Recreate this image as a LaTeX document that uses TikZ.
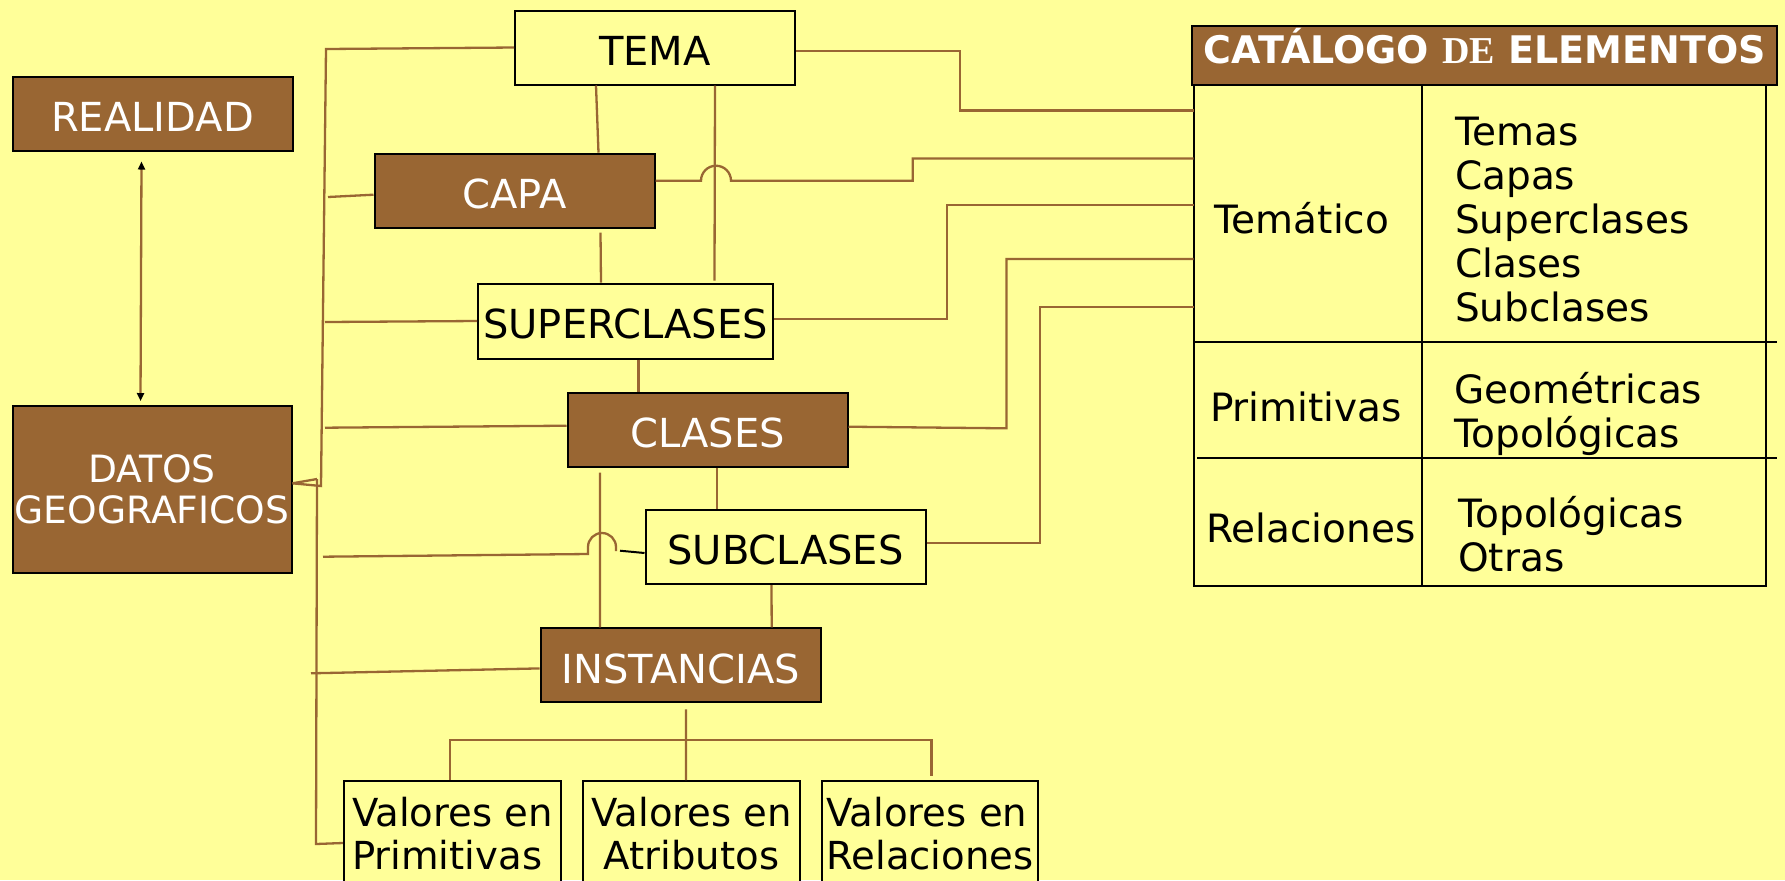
\documentclass[tikz,border=0pt]{standalone}
\usepackage{fontspec}
\setmainfont{DejaVu Sans}
\newfontfamily\deserif{Liberation Serif}
\usetikzlibrary{arrows.meta}
\definecolor{fondo}{HTML}{FFFF99}
\definecolor{cafe}{HTML}{996633}

\begin{document}
\begin{tikzpicture}[x=0.5pt,y=-0.5pt,
    font=\fontsize{20}{21.5}\selectfont,
    caja/.style={draw=black,line width=1pt,inner sep=0pt,minimum width=140pt,minimum height=37pt},
    clara/.style={caja,fill=fondo,text height=17.8pt,text depth=0pt},
    oscura/.style={caja,fill=cafe,text=white,text height=17.8pt,text depth=0pt},
    valor/.style={caja,fill=fondo,minimum width=108.7pt,minimum height=53pt,align=left,
      font=\fontsize{19.3}{21.5}\selectfont},
    celda/.style={inner sep=0pt,font=\fontsize{19.5}{22}\selectfont},
    tabla/.style={draw=black,line width=1pt},
    liga/.style={draw=cafe,line width=1.15pt}]
  \useasboundingbox (0,0) rectangle (1785,880);
  \clip (0,0) rectangle (1785,880);
  \fill[fondo] (0,0) rectangle (1785,880);

  % cajas del modelo
  \node[clara] (tema) at (655,47.5) {TEMA};
  \node[oscura] (realidad) at (152.5,113.5) {REALIDAD};
  \node[oscura] (capa) at (514.5,190.7) {CAPA};
  \node[clara, minimum width=147.5pt, minimum height=37.5pt] (superclases) at (625.5,321) {SUPERCLASES};
  \node[oscura] (clases) at (707.5,429.7) {CLASES};
  \node[caja, fill=cafe, text=white, align=center, minimum width=139.5pt, minimum height=83.3pt,
    font=\fontsize{18.8}{20.75}\selectfont] (datos) at (152,489.3) {DATOS\\GEOGRAFICOS};
  \node[clara] (subclases) at (785.5,547) {SUBCLASES};
  \node[oscura] (instancias) at (680.7,665.4) {INSTANCIAS};
  \node[valor] (valprim) at (452.5,834) {Valores en\\Primitivas};
  \node[valor, align=center] (valatr) at (691.6,834) {Valores en\\Atributos};
  \node[valor, minimum width=108pt] (valrel) at (930,834) {Valores en\\Relaciones};

  % catalogo
  \node[tabla, fill=cafe, text=white, inner sep=0pt, minimum width=292.5pt, minimum height=29.5pt,
    text height=13.9pt, text depth=5.7pt, font=\fontsize{19}{22}\selectfont\bfseries]
    (catalogo) at (1484.75,55.5) {CATÁLOGO {\deserif DE} ELEMENTOS};
  \draw[tabla] (1193.5,85) rectangle (1765.6,586);
  \draw[tabla] (1422.3,85) -- (1422.3,586);
  \draw[tabla] (1193.5,342) -- (1777,342);
  \draw[tabla] (1197,458) -- (1777,458);
  \node[celda] (tematico) at (1302,218) {Temático};
  \node[celda, anchor=west, align=left] (listatem) at (1454.7,219.5) {Temas\\Capas\\Superclases\\Clases\\Subclases};
  \node[celda] (primitivas) at (1306,407) {Primitivas};
  \node[celda, anchor=west, align=left] (listaprim) at (1454,414) {Geométricas\\Topológicas};
  \node[celda] (relaciones) at (1311,527.8) {Relaciones};
  \node[celda, anchor=west, align=left] (listarel) at (1457.8,534.5) {Topológicas\\Otras};
  \coordinate (k1) at (1193.5,110.4);
  \coordinate (k2) at (1193.5,158.5);
  \coordinate (k3) at (1193.5,205.3);
  \coordinate (k4) at (1193.5,259);
  \coordinate (k5) at (1193.5,307.3);

  \begin{scope}[liga]
    % tronco izquierdo
    \draw (tema.west) -- (326,49) -- (321,486) -- ([yshift=3pt]datos.east);
    \draw (317,479) -- ([yshift=3pt]datos.east);
    \draw (317,479) -- (316,844) -- ([yshift=-4.5pt]valprim.west);
    \draw (328,197) -- ([yshift=-2pt]capa.west);
    \draw (325,322) -- (superclases.west);
    \draw (325,427.7) -- ([yshift=2pt]clases.west);
    \draw (323,556.7) -- (588,554) -- (588,547) arc[start angle=180,end angle=0,radius=7pt] -- (616,551);
    \draw (311,673.3) -- ([yshift=-1.5pt]instancias.west);
    % verticales
    \draw ([xshift=-29.5pt]tema.south) -- ([xshift=42pt]capa.north);
    \draw ([xshift=30pt]tema.south) -- ([xshift=44.5pt,yshift=1pt]superclases.north);
    \draw ([xshift=43pt,yshift=-2pt]capa.south) -- ([xshift=-12.25pt]superclases.north);
    \draw ([xshift=6.5pt]superclases.south) -- ([xshift=-34.5pt]clases.north);
    \draw ([xshift=4.75pt]clases.south) -- ([xshift=-34.25pt]subclases.north);
    \draw ([xshift=-53.75pt,yshift=-2.5pt]clases.south) -- ([xshift=-40.35pt]instancias.north);
    \draw ([xshift=-7pt]subclases.south) -- ([xshift=45.5pt]instancias.north);
    \draw ([xshift=2.65pt,yshift=-3pt]instancias.south) -- ([xshift=-2.8pt]valatr.north);
    \draw ([xshift=-1.4pt]valprim.north) |- (931.6,740) -- ([xshift=0.8pt,yshift=2pt]valrel.north);
    % hacia el catalogo
    \draw ([yshift=-1.75pt]tema.east) -| (960,110.4) -- (k1);
    \draw ([yshift=5pt]capa.east) -- (701,180.7) arc[start angle=180,end angle=0,radius=7.5pt] -- (912.7,180.7) |- (k2);
    \draw ([yshift=0.85pt]superclases.east) -| (947,205.3) -- (k3);
    \draw ([yshift=1.5pt]clases.east) -- (1006.4,428.3) |- (k4);
    \draw ([yshift=2pt]subclases.east) -| (1040,307.3) -- (k5);
  \end{scope}
  \draw[black, line width=1pt] (620,550.7) -- ([yshift=-3pt]subclases.west);
  \draw[liga, {Triangle[length=4pt,width=3.5pt,black]}-{Triangle[length=4pt,width=3.5pt,black]}]
    ([xshift=-5.5pt,yshift=-5pt]realidad.south) -- ([xshift=-5.75pt,yshift=2pt]datos.north);
\end{tikzpicture}
\end{document}
